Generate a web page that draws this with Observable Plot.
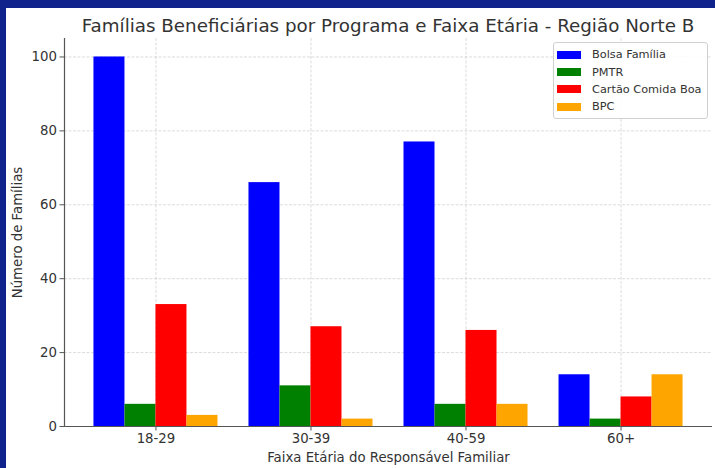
<!DOCTYPE html>
<html>
<head>
<meta charset="utf-8">
<script src="https://cdn.jsdelivr.net/npm/d3@7"></script>
<script src="https://cdn.jsdelivr.net/npm/@observablehq/plot@0.6"></script>
<style>
  html, body { margin: 0; padding: 0; }
  body { width: 715px; height: 468px; background: #10228c; position: relative; overflow: hidden; font-family: "DejaVu Sans", sans-serif; }
  #panel { position: absolute; left: 6px; top: 8px; width: 709px; height: 460px; background: #ffffff; }
  #title { position: absolute; left: 0; top: 9px; width: 764px; text-align: center; font-size: 18.3px; line-height: 18px; color: #333; white-space: nowrap; }
  #chart { position: absolute; left: 0; top: 0; }
  #legend { position: absolute; left: 547px; top: 34px; width: 153px; padding: 3px 0 2px 0; border: 1px solid #d0d0d0; border-radius: 3px; background: rgba(255,255,255,0.85); }
  .item { display: flex; align-items: center; height: 17.4px; font-size: 11.3px; color: #333; }
  .sw { width: 24px; height: 8px; margin-left: 3px; margin-right: 11px; }
</style>
</head>
<body>
<div id="panel">
  <div id="chart"></div>
  <div id="title">Famílias Beneficiárias por Programa e Faixa Etária - Região Norte B</div>
  <div id="legend"></div>
</div>
<script>
const titleText = "Famílias Beneficiárias por Programa e Faixa Etária - Região Norte B";
const xLabel = "Faixa Etária do Responsável Familiar";
const yLabel = "Número de Famílias";
const ageGroups = ["18-29", "30-39", "40-59", "60+"];
const programs = ["Bolsa Família", "PMTR", "Cartão Comida Boa", "BPC"];
const colors = ["#0000ff", "#008000", "#ff0000", "#ffa500"];
const bolsaFamilia = [100, 66, 77, 14];
const pmtr = [6, 11, 6, 2];
const cartaoComidaBoa = [33, 27, 26, 8];
const bpc = [3, 2, 6, 14];
const yTicks = [0, 20, 40, 60, 80, 100];
const yDomain = [0, 105];
const barWidth = 0.2;
const xDomain = [-0.59, 3.59];

const seriesValues = [bolsaFamilia, pmtr, cartaoComidaBoa, bpc];
const rows = [];
ageGroups.forEach((g, gi) => {
  programs.forEach((p, pj) => {
    rows.push({group: g, gi, program: p, pj, value: seriesValues[pj][gi]});
  });
});
const center = d => d.gi + (d.pj - (programs.length - 1) / 2) * barWidth;

const plot = Plot.plot({
  width: 709,
  height: 460,
  marginTop: 30,
  marginBottom: 42,
  marginLeft: 58,
  marginRight: 3,
  style: {fontFamily: "DejaVu Sans, sans-serif", background: "transparent", color: "#333"},
  x: {domain: xDomain, axis: null},
  y: {domain: yDomain, axis: null},
  color: {domain: programs, range: colors},
  marks: [
    Plot.gridY({ticks: yTicks.slice(1), stroke: "#c4c4c4", strokeOpacity: 0.6, strokeDasharray: "3,1.5", strokeWidth: 1}),
    Plot.gridX({ticks: ageGroups.map((g, i) => i), stroke: "#c4c4c4", strokeOpacity: 0.6, strokeDasharray: "3,1.5", strokeWidth: 1}),
    Plot.rectY(rows, {
      x1: d => center(d) - barWidth / 2,
      x2: d => center(d) + barWidth / 2,
      y: "value",
      fill: "program",
      inset: 0
    }),
    Plot.ruleY([yDomain[0]], {stroke: "#555", strokeWidth: 1.2}),
    Plot.ruleX([xDomain[0]], {stroke: "#555", strokeWidth: 1.2}),
    Plot.axisY({ticks: yTicks, tickSize: 4.5, tickPadding: 3, fontSize: 13.3, stroke: "#555",
      label: yLabel, labelAnchor: "center", labelArrow: "none", labelOffset: 52}),
    Plot.axisX({ticks: ageGroups.map((g, i) => i), tickFormat: i => ageGroups[i], tickSize: 4.5, tickPadding: 3, fontSize: 13.3, stroke: "#555",
      label: xLabel, labelAnchor: "center", labelArrow: "none", labelOffset: 35})
  ]
});
document.getElementById("chart").appendChild(plot);
document.getElementById("title").textContent = titleText;

const legend = document.getElementById("legend");
programs.forEach((p, i) => {
  const item = document.createElement("div");
  item.className = "item";
  const sw = document.createElement("div");
  sw.className = "sw";
  sw.style.background = colors[i];
  const t = document.createElement("span");
  t.textContent = p;
  item.appendChild(sw);
  item.appendChild(t);
  legend.appendChild(item);
});
</script>
</body>
</html>
